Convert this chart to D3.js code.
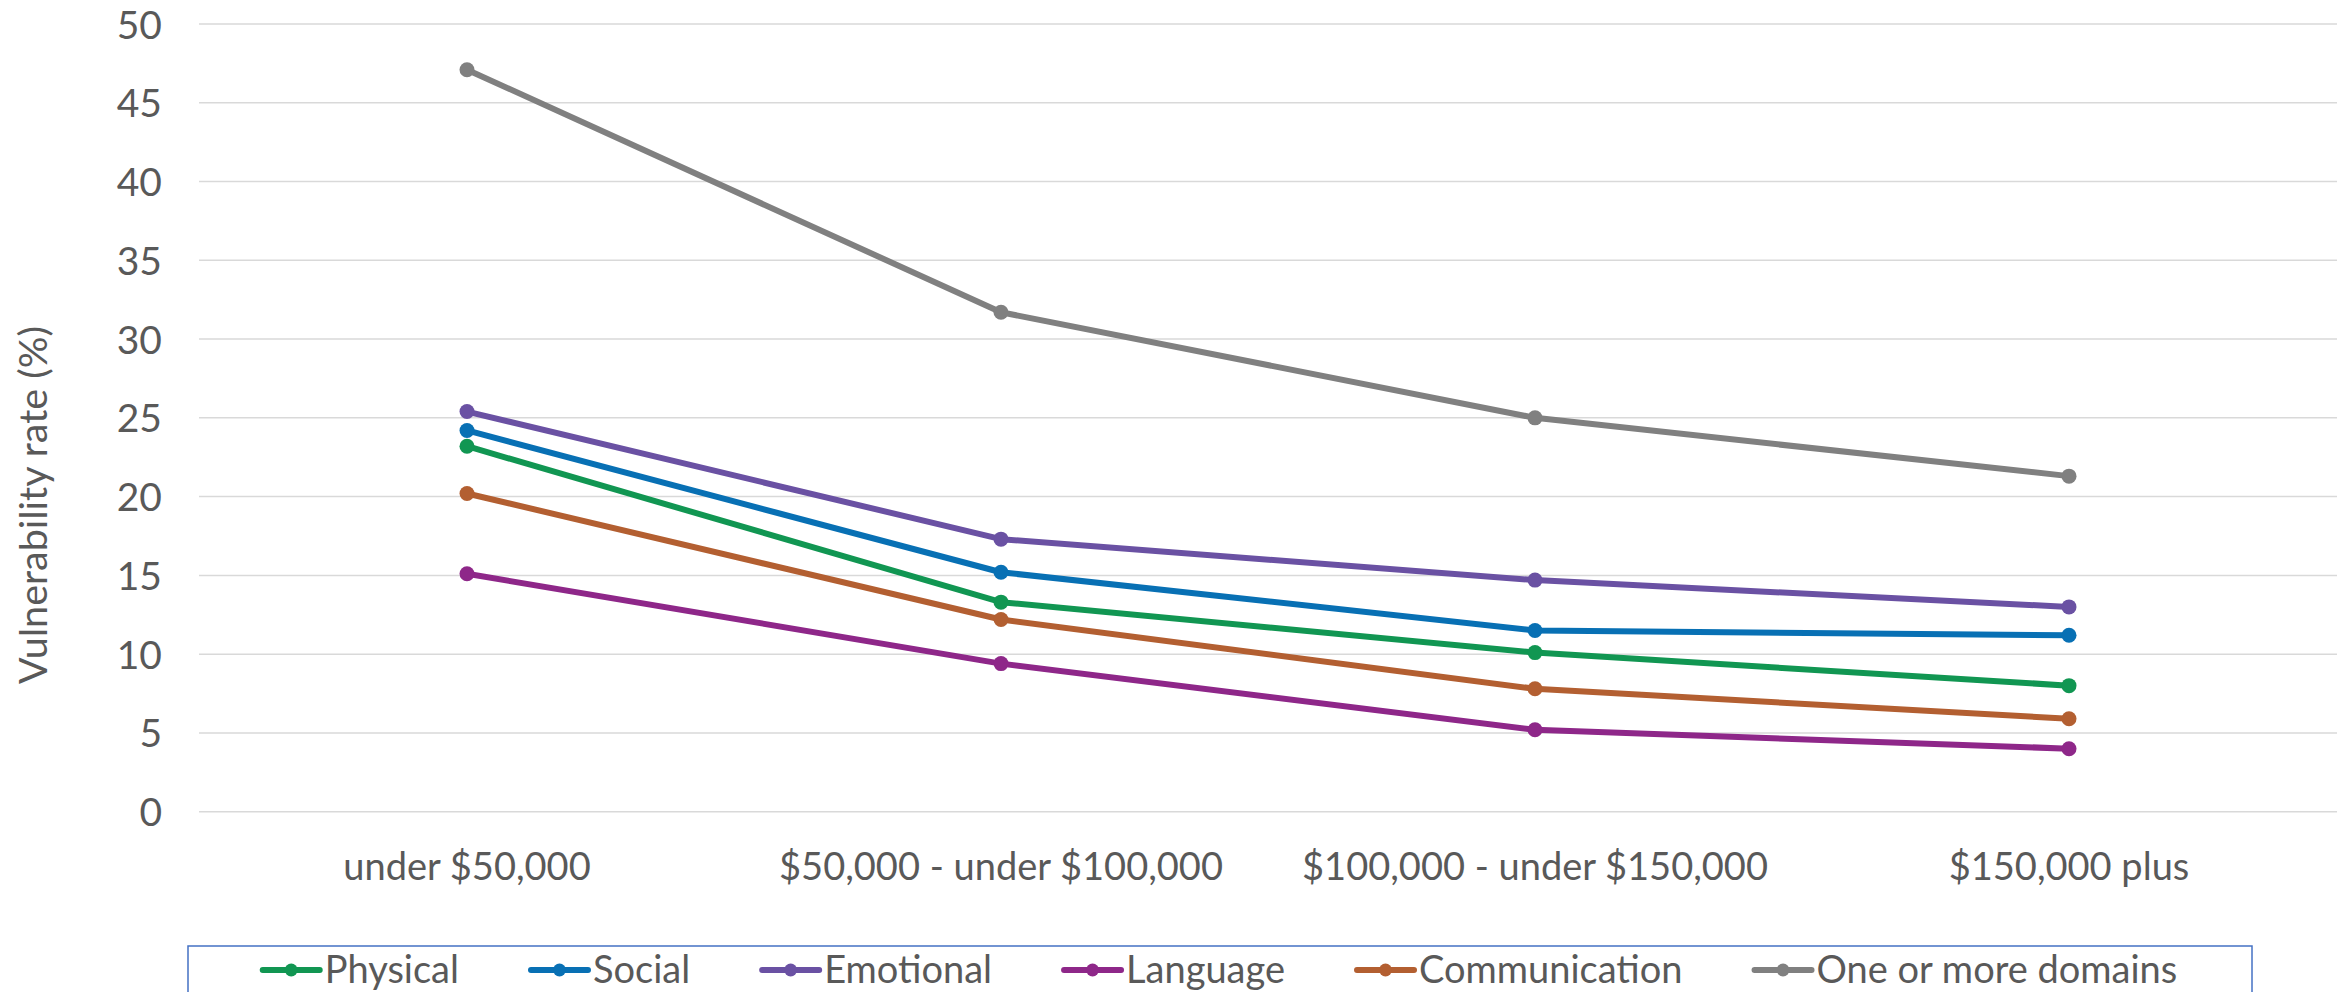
<!DOCTYPE html>
<html>
<head>
<meta charset="utf-8">
<script src="https://cdn.jsdelivr.net/npm/d3@7"></script>
<style>
  html, body { margin: 0; padding: 0; background: #ffffff; }
  svg { display: block; }
  text { font-family: Lato, "Open Sans", sans-serif; fill: #595959; }
</style>
</head>
<body>
<svg id="chart" width="2351" height="992"></svg>
<script>
// Income brackets along the x axis
const categories = ["under $50,000", "$50,000 - under $100,000", "$100,000 - under $150,000", "$150,000 plus"];

// Vulnerability rate (%) per domain, one value per income bracket
const physical      = [23.2, 13.3, 10.1, 8.0];
const social        = [24.2, 15.2, 11.5, 11.2];
const emotional     = [25.4, 17.3, 14.7, 13.0];
const language      = [15.1, 9.4, 5.2, 4.0];
const communication = [20.2, 12.2, 7.8, 5.9];
const oneOrMore     = [47.1, 31.7, 25.0, 21.3];

const seriesNames  = ["Physical", "Social", "Emotional", "Language", "Communication", "One or more domains"];
const seriesColors = ["#119652", "#0870B4", "#6A51A3", "#8E2789", "#B35F31", "#808080"];
const yTicks = [0, 5, 10, 15, 20, 25, 30, 35, 40, 45, 50];

const seriesValues = [physical, social, emotional, language, communication, oneOrMore];
const series = seriesNames.map((name, i) => ({ name, color: seriesColors[i], values: seriesValues[i] }));

const svg = d3.select("#chart");
const plot = { left: 200, right: 2336, top: 24, bottom: 811.7 };

const x = d3.scaleBand().domain(categories).range([plot.left, plot.right]);
const y = d3.scaleLinear().domain([0, 50]).range([plot.bottom, plot.top]);
const cx = c => x(c) + x.bandwidth() / 2;

// Horizontal gridlines
svg.append("g")
  .selectAll("line")
  .data(yTicks)
  .join("line")
  .attr("x1", plot.left - 1)
  .attr("x2", plot.right + 1)
  .attr("y1", d => y(d))
  .attr("y2", d => y(d))
  .attr("stroke", "#d9d9d9")
  .attr("stroke-width", 1.5);

// Y axis tick labels
const yAxis = d3.axisLeft(y).tickValues(yTicks).tickSize(0).tickPadding(0);
const yG = svg.append("g").attr("transform", "translate(162,0)").call(yAxis);
yG.select(".domain").remove();
yG.selectAll("text")
  .attr("font-size", 39)
  .attr("font-family", "Lato, sans-serif")
  .attr("fill", "#595959")
  .attr("dy", "0.36em");

// X axis category labels
const xAxis = d3.axisBottom(x).tickSize(0).tickPadding(0);
const xG = svg.append("g").attr("transform", "translate(0,880)").call(xAxis);
xG.select(".domain").remove();
xG.selectAll("text")
  .attr("font-size", 38)
  .attr("font-family", "Lato, sans-serif")
  .attr("fill", "#595959")
  .attr("dy", 0)
  .attr("y", 0);

// Y axis title
svg.append("text")
  .attr("transform", "translate(47,505) rotate(-90)")
  .attr("text-anchor", "middle")
  .attr("font-size", 39.5)
  .text("Vulnerability rate (%)");

// Series lines and markers
const line = d3.line()
  .x((d, i) => cx(categories[i]))
  .y(d => y(d));

const sg = svg.append("g")
  .selectAll("g")
  .data(series)
  .join("g");

sg.append("path")
  .attr("d", d => line(d.values))
  .attr("fill", "none")
  .attr("stroke", d => d.color)
  .attr("stroke-width", 6)
  .attr("stroke-linejoin", "round")
  .attr("stroke-linecap", "round");

sg.selectAll("circle")
  .data(d => d.values.map((v, i) => ({ v, i, color: d.color })))
  .join("circle")
  .attr("cx", d => cx(categories[d.i]))
  .attr("cy", d => y(d.v))
  .attr("r", 7.5)
  .attr("fill", d => d.color);

// Legend box (runs past the bottom edge of the canvas)
const box = { left: 188, right: 2252, top: 946 };
svg.append("rect")
  .attr("x", box.left)
  .attr("y", box.top)
  .attr("width", box.right - box.left)
  .attr("height", 80)
  .attr("fill", "none")
  .attr("stroke", "#4472C4")
  .attr("stroke-width", 1.5);

const legend = svg.append("g");
const swatchLen = 57, textGap = 5, itemGap = 72, legendY = 970;
let cursor = 0;
series.forEach(s => {
  const g = legend.append("g");
  g.append("line")
    .attr("x1", 0).attr("x2", swatchLen)
    .attr("y1", legendY).attr("y2", legendY)
    .attr("stroke", s.color)
    .attr("stroke-width", 6)
    .attr("stroke-linecap", "round");
  g.append("circle")
    .attr("cx", swatchLen / 2).attr("cy", legendY)
    .attr("r", 6.5)
    .attr("fill", s.color);
  const t = g.append("text")
    .attr("x", swatchLen + textGap)
    .attr("y", 983)
    .attr("font-size", 38)
    .text(s.name);
  const w = swatchLen + textGap + t.node().getComputedTextLength();
  g.attr("transform", `translate(${cursor},0)`);
  cursor += w + itemGap;
});
const totalW = cursor - itemGap;
const startX = (box.left + box.right) / 2 - totalW / 2;
legend.attr("transform", `translate(${startX},0)`);
</script>
</body>
</html>
